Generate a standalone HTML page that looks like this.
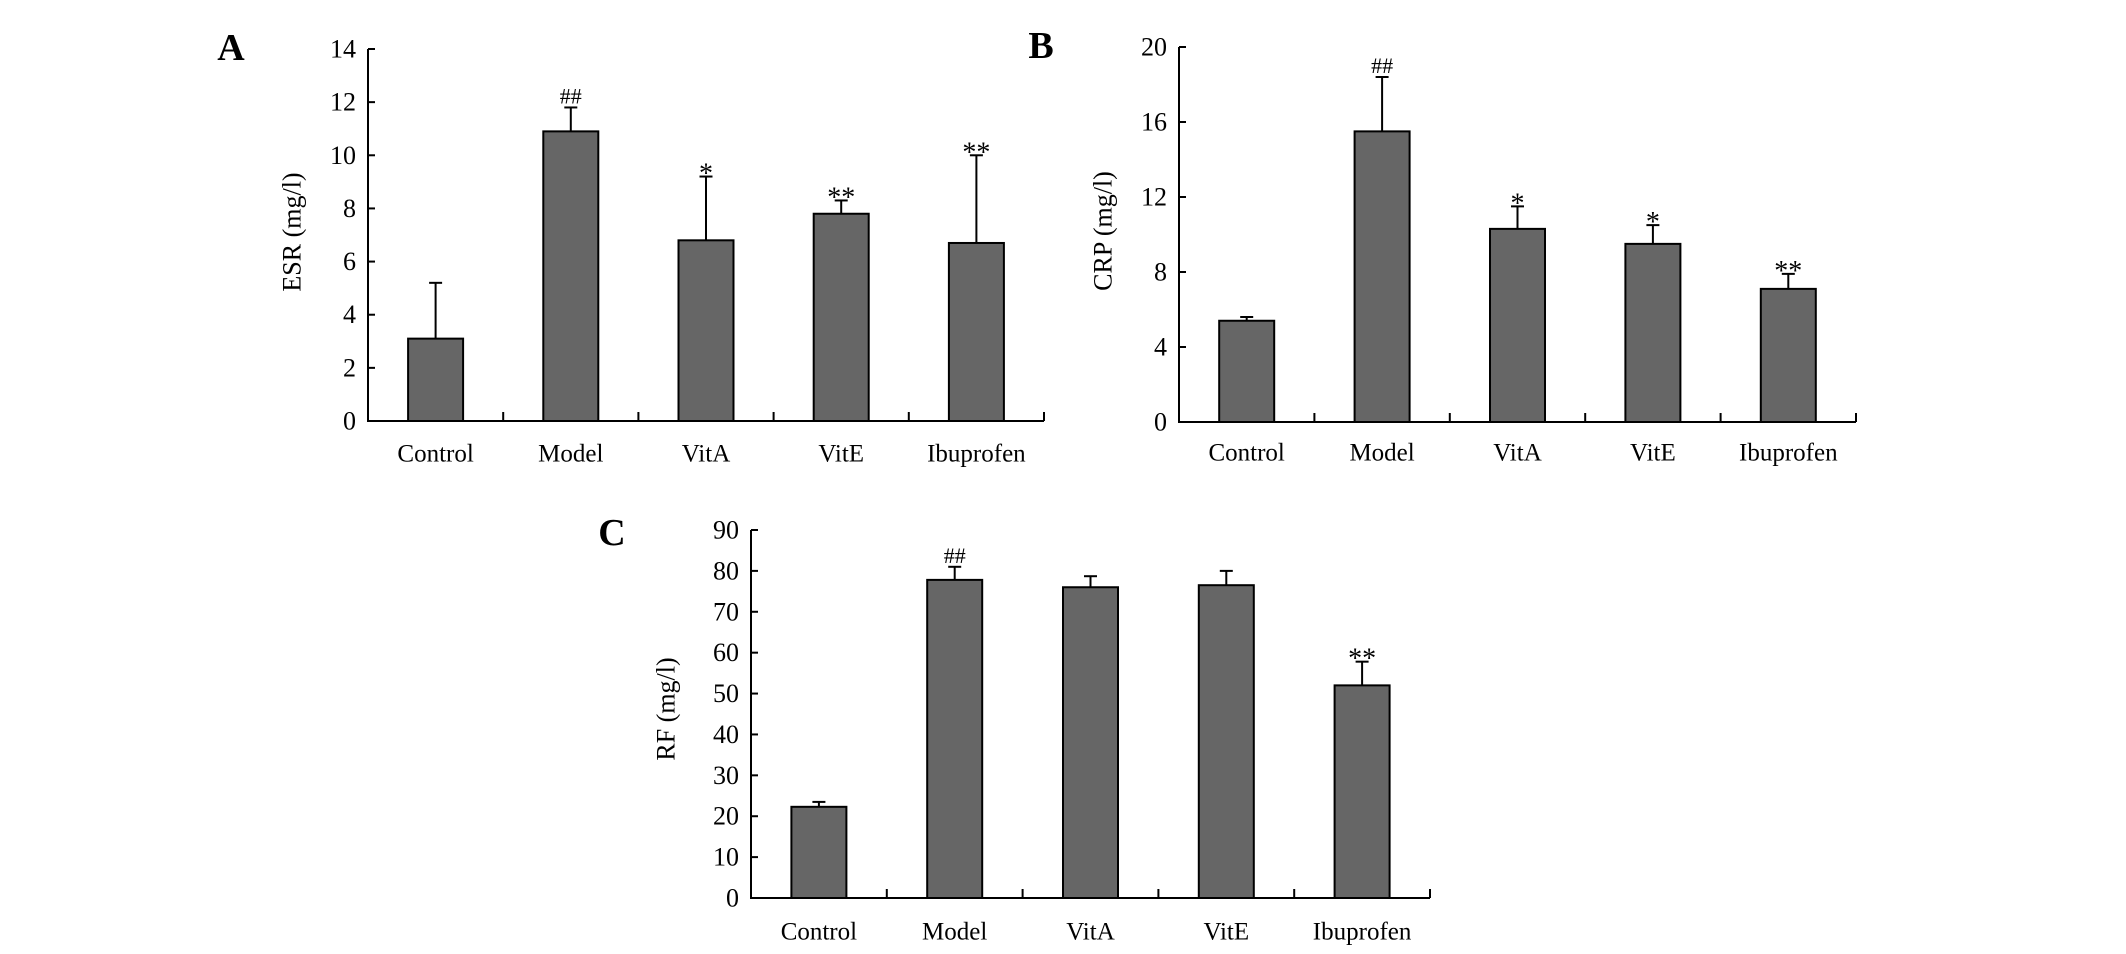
<!DOCTYPE html>
<html><head><meta charset="utf-8"><style>
html,body{margin:0;padding:0;background:#fff;}
svg{display:block;}
text{font-family:"Liberation Serif",serif;fill:#000;}
</style></head><body>
<svg id="fig" width="2126" height="954" viewBox="0 0 2126 954" xmlns="http://www.w3.org/2000/svg"></svg>
<script>
const categories = ["Control","Model","VitA","VitE","Ibuprofen"];
const esrValues = [3.1, 10.9, 6.8, 7.8, 6.7];
const esrUpper = [5.2, 11.8, 9.2, 8.3, 10.0];
const esrMarks = ["", "##", "*", "**", "**"];
const esrTicks = [0,2,4,6,8,10,12,14];
const crpValues = [5.4, 15.5, 10.3, 9.5, 7.1];
const crpUpper = [5.6, 18.4, 11.5, 10.5, 7.9];
const crpMarks = ["", "##", "*", "*", "**"];
const crpTicks = [0,4,8,12,16,20];
const rfValues = [22.3, 77.8, 76.0, 76.5, 52.0];
const rfUpper = [23.5, 81.0, 78.7, 80.0, 57.8];
const rfMarks = ["", "##", "", "", "**"];
const rfTicks = [0,10,20,30,40,50,60,70,80,90];

const NS = "http://www.w3.org/2000/svg";
const svg = document.getElementById('fig');
function mk(tag, attrs, parent){
  const e = document.createElementNS(NS, tag);
  for (const k in attrs) e.setAttribute(k, attrs[k]);
  (parent||svg).appendChild(e);
  return e;
}

function panel(cfg){
  const g = mk('g', {});
  
  
  const x0 = cfg.x0, x1 = cfg.x1, yTop = cfg.yTop, y0 = cfg.y0, max = cfg.max;
  const ys = v => y0 - (v / max) * (y0 - yTop);
  const step = (x1 - x0) / categories.length;
  const xc = i => x0 + step * (i + 0.5);

  const lab = mk('text', {x: cfg.letter_x, y: cfg.letter_y, 'font-size': 38, 'font-weight': 'bold', 'text-anchor': 'middle', 'dominant-baseline': 'central'}, g);
  lab.textContent = cfg.letter;
  
  

  const ax = mk('path', {d: `M${x0} ${yTop} L${x0} ${y0} L${x1} ${y0}`, stroke: '#000', 'stroke-width': 2, fill: 'none'}, g);
  
  

  cfg.ticks.forEach(t => {
    const y = ys(t);
    const tk = mk('line', {x1: x0, x2: x0 + 7, y1: y, y2: y, stroke: '#000', 'stroke-width': 2}, g);
    
    
    const tl = mk('text', {x: x0 - 12, y: y, 'font-size': 26, 'text-anchor': 'end', 'dominant-baseline': 'central'}, g);
    tl.textContent = t;
    
    
  });
  for (let i = 1; i <= categories.length; i++) {
    const x = x0 + step * i;
    const tk = mk('line', {x1: x, x2: x, y1: y0, y2: y0 - 9, stroke: '#000', 'stroke-width': 2}, g);
    
    
  }
  const yt = mk('text', {x: 0, y: 0, 'font-size': 26, 'text-anchor': 'middle', 'dominant-baseline': 'central', transform: `translate(${cfg.title_x},${cfg.title_y}) rotate(-90)`}, g);
  yt.textContent = cfg.title;
  
  

  const bw = 55;
  cfg.values.forEach((v, i) => {
    const cx = xc(i);
    const ey = ys(cfg.upper[i]);
    const el = mk('line', {x1: cx, x2: cx, y1: ys(v), y2: ey, stroke: '#000', 'stroke-width': 2}, g);
    
    
    const cap = mk('line', {x1: cx - 6.5, x2: cx + 6.5, y1: ey, y2: ey, stroke: '#000', 'stroke-width': 2}, g);
    
    
    const b = mk('rect', {x: cx - bw / 2, y: ys(v), width: bw, height: y0 - ys(v), fill: '#666', stroke: '#000', 'stroke-width': 2}, g);
    
    
    if (cfg.marks[i]) {
      const m = mk('text', {x: cx, y: ey - 4, 'font-size': cfg.marks[i][0] === '#' ? 22 : 28, 'text-anchor': 'middle'}, g);
      m.textContent = cfg.marks[i];
      if (cfg.marks[i][0] === '*') m.setAttribute('y', ey + 6);
      
      
    }
    const cl = mk('text', {x: cx, y: cfg.cat_y, 'font-size': 25, 'text-anchor': 'middle', 'dominant-baseline': 'central'}, g);
    cl.textContent = categories[i];
    
    
  });
}

panel({letter: 'A', letter_x: 231, letter_y: 48, x0: 368, x1: 1044, yTop: 49, y0: 421, max: 14, ticks: esrTicks,
  values: esrValues, upper: esrUpper, marks: esrMarks, title: 'ESR (mg/l)', title_x: 292, title_y: 232, cat_y: 454});
panel({letter: 'B', letter_x: 1041, letter_y: 46, x0: 1179, x1: 1856, yTop: 47, y0: 422, max: 20, ticks: crpTicks,
  values: crpValues, upper: crpUpper, marks: crpMarks, title: 'CRP (mg/l)', title_x: 1103, title_y: 231, cat_y: 453});
panel({letter: 'C', letter_x: 612, letter_y: 533, x0: 751, x1: 1430, yTop: 530, y0: 898, max: 90, ticks: rfTicks,
  values: rfValues, upper: rfUpper, marks: rfMarks, title: 'RF (mg/l)', title_x: 666, title_y: 709, cat_y: 932});
</script>
</body></html>
